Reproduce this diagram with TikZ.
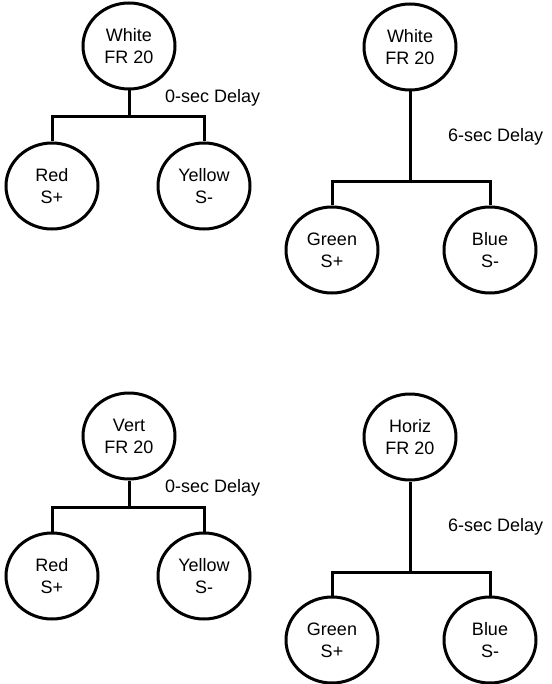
\documentclass[tikz,border=0pt]{standalone}
\usepackage{fontspec}
\setmainfont{Liberation Sans}
\usetikzlibrary{shapes.geometric}
\tikzset{
  state/.style={ellipse, draw, line width=3pt, minimum width=92pt, minimum height=86pt,
    inner sep=0pt, align=center, font=\fontsize{18}{22}\selectfont},
  link/.style={line width=3pt, line join=miter},
  delay/.style={anchor=west, inner sep=0pt, font=\fontsize{18}{22}\selectfont}
}
\begin{document}
\begin{tikzpicture}[x=1pt, y=-1pt]
\useasboundingbox (0,0) rectangle (551,684);

% ---- upper left: White, 0-sec delay ----
\node[state] (w1) at (129,46) {White\\FR 20};
\node[state] (r1) at (52,186) {Red\\S+};
\node[state] (y1) at (204,186) {Yellow\\S-};
\coordinate (j1) at (129,117);
\draw[link] (w1.south) -- (j1);
\draw[link] (r1.north) -- (r1.north |- j1) -- (y1.north |- j1) -- (y1.north);
\node[delay] (d1) at (165,98) {0-sec Delay};

% ---- upper right: White, 6-sec delay ----
\node[state] (w2) at (410,47) {White\\FR 20};
\node[state] (g2) at (332,250) {Green\\S+};
\node[state] (b2) at (490,250) {Blue\\S-};
\coordinate (j2) at (410,182);
\draw[link] (w2.south) -- (j2);
\draw[link] (g2.north) -- (g2.north |- j2) -- (b2.north |- j2) -- (b2.north);
\node[delay] (d2) at (448,137) {6-sec Delay};

% ---- lower left: Vert, 0-sec delay ----
\node[state] (w3) at (129,436) {Vert\\FR 20};
\node[state] (r3) at (52,576) {Red\\S+};
\node[state] (y3) at (204,576) {Yellow\\S-};
\coordinate (j3) at (129,507);
\draw[link] (w3.south) -- (j3);
\draw[link] (r3.north) -- (r3.north |- j3) -- (y3.north |- j3) -- (y3.north);
\node[delay] (d3) at (165,488) {0-sec Delay};

% ---- lower right: Horiz, 6-sec delay ----
\node[state] (w4) at (410,437) {Horiz\\FR 20};
\node[state] (g4) at (332,640) {Green\\S+};
\node[state] (b4) at (490,640) {Blue\\S-};
\coordinate (j4) at (410,572);
\draw[link] (w4.south) -- (j4);
\draw[link] (g4.north) -- (g4.north |- j4) -- (b4.north |- j4) -- (b4.north);
\node[delay] (d4) at (448,527) {6-sec Delay};
\end{tikzpicture}
\end{document}
